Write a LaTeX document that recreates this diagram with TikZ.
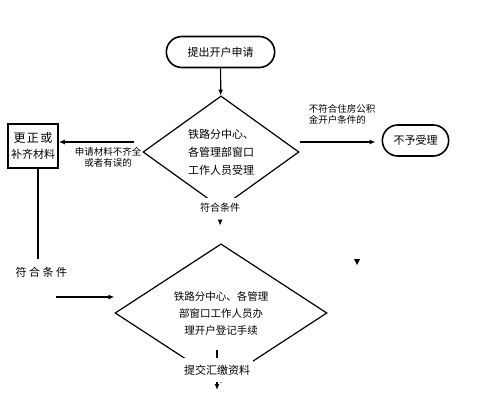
\documentclass[tikz,border=0pt]{standalone}
\usepackage{fontspec}
\usepackage{tikz}
\usetikzlibrary{arrows.meta,shapes.geometric,shapes.misc}
\newfontfamily\cjk{Noto Sans CJK SC}
\newcommand{\arw}{-{Latex[length=6pt,width=5pt]}}

\begin{document}
\begin{tikzpicture}[x=1pt,y=-1pt,line width=1.2pt,
  every node/.style={font=\cjk\fontsize{11pt}{18pt}\selectfont,align=center},
  term/.style={draw,rounded rectangle,minimum height=31pt,line width=1.6pt},
  check/.style={draw,diamond,inner sep=0pt},
  lbl/.style={font=\cjk\fontsize{9.5pt}{11pt}\selectfont},
  gap/.style={fill=white}]
\useasboundingbox (0,0) rectangle (479,400);
%shapes
\node[term,minimum width=115pt] (start) at (220.5,52) {提出开户申请};
\node[check,minimum width=156pt,minimum height=104pt] (d1) at (221,152) {铁路分中心、\\各管理部窗口\\工作人员受理};
\node[term,minimum width=73pt] (reject) at (415.5,140.5) {不予受理};
\node[draw,line width=1.6pt,minimum width=50pt,minimum height=44pt,inner sep=0pt,
  font=\cjk\fontsize{11pt}{16pt}\selectfont] (fix) at (33,146) {{\fontsize{12pt}{16pt}\selectfont 更\hspace{1.5pt}正\hspace{1.5pt}或}\\补齐材料};
\node[check,minimum width=212pt,minimum height=114pt,
  font=\cjk\fontsize{10.5pt}{17pt}\selectfont] (d2) at (221,313) {铁路分中心、各管理\\部窗口工作人员办\\理开户登记手续};
%labels
\node[lbl] (no1) at (108,157) {申请材料不齐全\\或者有误的};
\node[lbl,anchor=west,align=left] (no2) at (305,114.5) {不符合住房公积\\金开户条件的};
\node[lbl,gap,inner sep=5pt,font=\cjk\fontsize{10pt}{11pt}\selectfont] (ok1) at (220,208) {符合条件};
\node (ok2) at (41.5,272) {符\hspace{2.5pt}合\hspace{2.5pt}条\hspace{2.5pt}件};
\node[gap,inner xsep=3pt,inner ysep=6.5pt] (sub) at (217,370) {提交汇缴资料};
\coordinate (c1) at (56,297);
\coordinate (c2) at (217,350);
\coordinate (c3) at (217,390);
%arrows
\draw[\arw] (start) -- (d1);
\draw[\arw] ([xshift=-8pt,yshift=10pt]d1.west) coordinate (a) -- (a -| fix.east);
\draw[\arw,shorten >=6pt] ([yshift=10pt]d1.east) coordinate (b) -- (b -| reject.west);
\draw[\arw,shorten <=3pt,shorten >=18pt] (ok1) -- (d2);
\draw[shorten >=4pt] ([xshift=5pt]fix.south) coordinate (f) -- (f |- ok2.north);
\draw[\arw] (c1) -- (c1 -| d2.west);
\draw (c2) -- (sub);
\draw[\arw] (sub) -- (c3);
\fill (354,259) -- (360,259) -- (357,265) -- cycle;
\end{tikzpicture}
\end{document}
